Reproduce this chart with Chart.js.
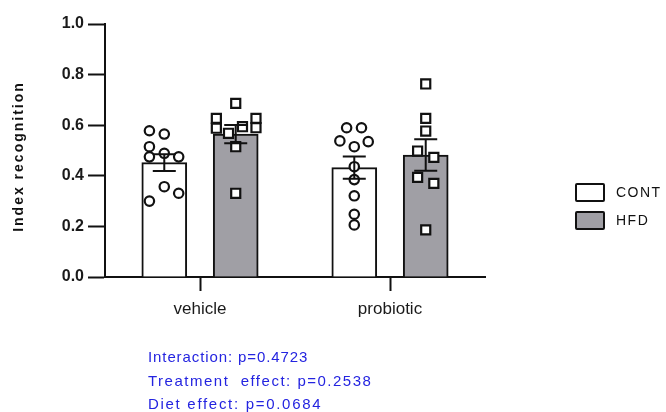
<!DOCTYPE html>
<html>
<head>
<meta charset="utf-8">
<script src="https://cdn.jsdelivr.net/npm/chart.js@4/dist/chart.umd.min.js"></script>
<style>
  html, body { margin: 0; padding: 0; background: #fff; }
  #wrap { position: relative; width: 666px; height: 412px; font-family: "Liberation Sans", Arial, sans-serif; }
  #c { position: absolute; left: 0; top: 0; }
  .legend-item { position: absolute; left: 575px; height: 20px; display: flex; align-items: center;
                 font-size: 14px; letter-spacing: 1.5px; color: #111; }
  .swatch { box-sizing: border-box; width: 30px; height: 19px; border: 2px solid #111; border-radius: 2px; margin-right: 11px; }
  .stats { position: absolute; left: 148px; height: 20px; line-height: 20px; color: #2424e0; font-size: 15px; white-space: pre; }
</style>
</head>
<body>
<div id="wrap">
  <canvas id="c" width="666" height="412"></canvas>
  <div id="legend"></div>
  <div id="stats"></div>
</div>
<script>
// Groups and treatments
const categories = ['vehicle', 'probiotic'];
const groups = ['CONT', 'HFD'];
const yTicks = [0, 0.2, 0.4, 0.6, 0.8, 1.0];
const yTitle = 'Index recognition';

// Group means and SEM (vehicle, probiotic)
const meanCONT = [0.452, 0.432];
const meanHFD  = [0.565, 0.482];
const semCONT  = [0.033, 0.044];
const semHFD   = [0.036, 0.062];

// Individual animals; spread = horizontal placement within the bar (fraction of bar width)
const vehicleCONT         = [0.578, 0.565, 0.515, 0.475, 0.489, 0.475, 0.357, 0.331, 0.300];
const vehicleCONTSpread   = [-0.33, 0, -0.33, -0.33, 0, 0.32, 0, 0.32, -0.33];
const vehicleHFD          = [0.686, 0.627, 0.588, 0.627, 0.590, 0.594, 0.568, 0.515, 0.331];
const vehicleHFDSpread    = [0, -0.43, -0.43, 0.45, 0.45, 0.15, -0.16, 0, 0];
const probioticCONT       = [0.590, 0.590, 0.538, 0.515, 0.535, 0.436, 0.385, 0.321, 0.248, 0.206];
const probioticCONTSpread = [-0.17, 0.16, -0.32, 0, 0.31, 0, 0, 0, 0, 0];
const probioticHFD        = [0.763, 0.627, 0.577, 0.498, 0.473, 0.394, 0.370, 0.186];
const probioticHFDSpread  = [0, 0, 0, -0.18, 0.18, -0.18, 0.18, 0];

// Two-way ANOVA results
const statsLines = ['Interaction: p=0.4723', 'Treatment  effect: p=0.2538', 'Diet effect: p=0.0684'];
const statsSpacing = ['0.9px', '1.5px', '1.7px'];

const FONT = '"Liberation Sans", Arial, sans-serif';
const INK = '#111111';
const GREY = '#a09fa5';
const BAR_PX = 45;          // bar thickness in pixels
const groupShift = 0.188;   // bar centre offset from the category centre (category units)
const barUnits = 0.237;     // bar width expressed in category units

function barData(means, side) {
  return means.map((m, i) => ({ x: i + side * groupShift, y: m }));
}
function dots(values, spread, cat, side) {
  return values.map((v, i) => ({ x: cat + side * groupShift + spread[i] * barUnits, y: v }));
}

const errorBars = {
  id: 'errorBars',
  afterDatasetsDraw(chart) {
    const ctx = chart.ctx, y = chart.scales.y;
    [[0, meanCONT, semCONT], [1, meanHFD, semHFD]].forEach(([di, m, s]) => {
      chart.getDatasetMeta(di).data.forEach((bar, i) => {
        const top = y.getPixelForValue(m[i] + s[i]);
        const bot = y.getPixelForValue(m[i] - s[i]);
        ctx.save();
        ctx.strokeStyle = INK;
        ctx.lineWidth = 2;
        ctx.beginPath();
        ctx.moveTo(bar.x, top); ctx.lineTo(bar.x, bot);
        ctx.moveTo(bar.x - 11.5, top); ctx.lineTo(bar.x + 11.5, top);
        ctx.moveTo(bar.x - 11.5, bot); ctx.lineTo(bar.x + 11.5, bot);
        ctx.stroke();
        ctx.restore();
      });
    });
  }
};

const axisTitle = {
  id: 'axisTitle',
  afterDraw(chart) {
    const ctx = chart.ctx, area = chart.chartArea;
    ctx.save();
    ctx.translate(19, (area.top + area.bottom) / 2 + 6);
    ctx.rotate(-Math.PI / 2);
    ctx.font = 'bold 14px ' + FONT;
    ctx.letterSpacing = '2px';
    ctx.fillStyle = INK;
    ctx.textAlign = 'center';
    ctx.textBaseline = 'middle';
    ctx.fillText(yTitle, 0, 0);
    ctx.restore();
  }
};

const chart = new Chart(document.getElementById('c'), {
  type: 'bar',
  data: {
    datasets: [
      { type: 'bar', label: groups[0], data: barData(meanCONT, -1), backgroundColor: '#ffffff', borderColor: INK,
        borderWidth: 2, grouped: false, barThickness: BAR_PX, order: 2 },
      { type: 'bar', label: groups[1], data: barData(meanHFD, 1), backgroundColor: GREY, borderColor: INK,
        borderWidth: 2, grouped: false, barThickness: BAR_PX, order: 2 },
      { type: 'scatter', label: groups[0] + ' animals', order: 1,
        data: [...dots(vehicleCONT, vehicleCONTSpread, 0, -1), ...dots(probioticCONT, probioticCONTSpread, 1, -1)],
        pointStyle: 'circle', pointRadius: 4.7, pointBorderWidth: 2.2,
        pointBackgroundColor: '#ffffff', pointBorderColor: INK },
      { type: 'scatter', label: groups[1] + ' animals', order: 1,
        data: [...dots(vehicleHFD, vehicleHFDSpread, 0, 1), ...dots(probioticHFD, probioticHFDSpread, 1, 1)],
        pointStyle: 'rect', pointRadius: 6.4, pointBorderWidth: 2.2,
        pointBackgroundColor: '#ffffff', pointBorderColor: INK }
    ]
  },
  options: {
    responsive: false,
    animation: false,
    events: [],
    layout: { padding: { top: 24, right: 181, left: 0, bottom: 0 } },
    plugins: { legend: { display: false }, tooltip: { enabled: false } },
    scales: {
      x: {
        type: 'linear',
        min: -0.5, max: 1.5,
        offset: false,
        afterBuildTicks(s) { s.ticks = categories.map((c, i) => ({ value: i })); },
        grid: { display: true, drawOnChartArea: false, offset: false, tickLength: 14, tickWidth: 2, tickColor: INK },
        border: { display: true, width: 2, color: INK },
        ticks: { callback: v => categories[v], autoSkip: false, maxRotation: 0,
                 font: { family: FONT, size: 17 }, color: '#1a1a1a', padding: 8 },
        afterFit(s) { s.height = 135; }
      },
      y: {
        min: 0, max: 1,
        afterBuildTicks(s) { s.ticks = yTicks.map(v => ({ value: v })); },
        ticks: { callback: v => Number(v).toFixed(1), font: { family: FONT, size: 16, weight: 'bold' }, color: '#1a1a1a', padding: 4 },
        grid: { drawOnChartArea: false, tickLength: 17, tickWidth: 2, tickColor: INK },
        border: { display: true, width: 2, color: INK },
        afterFit(s) { s.width = 105; }
      }
    }
  },
  plugins: [errorBars, axisTitle]
});

// Legend built from the bar datasets
const legend = document.getElementById('legend');
chart.data.datasets.slice(0, 2).forEach((ds, i) => {
  const item = document.createElement('div');
  item.className = 'legend-item';
  item.style.top = (182 + i * 28) + 'px';
  const sw = document.createElement('span');
  sw.className = 'swatch';
  sw.style.background = ds.backgroundColor;
  const txt = document.createElement('span');
  txt.textContent = ds.label;
  item.appendChild(sw);
  item.appendChild(txt);
  legend.appendChild(item);
});

// Statistics block
const stats = document.getElementById('stats');
statsLines.forEach((line, i) => {
  const d = document.createElement('div');
  d.className = 'stats';
  d.style.top = (347 + i * 23.5) + 'px';
  d.style.letterSpacing = statsSpacing[i];
  d.textContent = line;
  stats.appendChild(d);
});
</script>
</body>
</html>
